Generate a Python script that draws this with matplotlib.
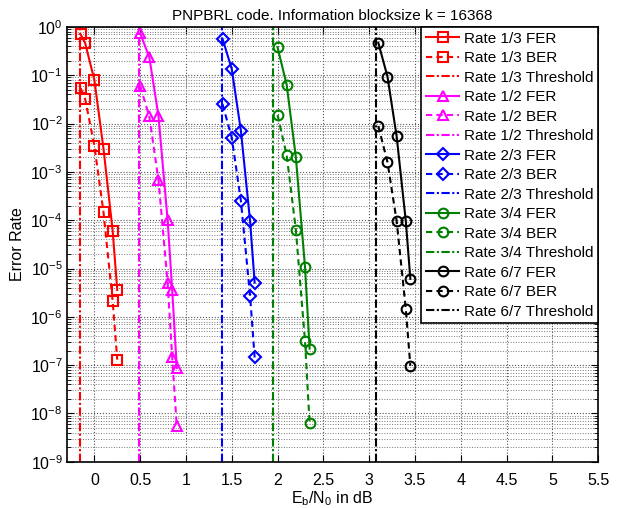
import numpy as np
import matplotlib
matplotlib.use("Agg")
import matplotlib.pyplot as plt
from matplotlib.ticker import LogLocator, NullFormatter

plt.rcParams['font.family'] = ['Liberation Sans', 'DejaVu Sans']
plt.rcParams['mathtext.fontset'] = 'custom'
plt.rcParams['mathtext.rm'] = 'Liberation Sans'

# data
rates = ['1/3', '1/2', '2/3', '3/4', '6/7']
colors = ['#ff0000', '#ff00ff', '#0000ff', '#008000', '#000000']
markers = ['s', '^', 'D', 'o', 'o']

ebn0_13 = [-0.15, -0.1, 0.0, 0.1, 0.2, 0.25]
fer_13 = [0.70, 0.46, 0.08, 0.0030, 6.0e-5, 3.6e-6]
ber_13 = [0.054, 0.032, 0.0035, 1.45e-4, 2.1e-6, 1.3e-7]

ebn0_12 = [0.5, 0.6, 0.7, 0.8, 0.85, 0.9]
fer_12 = [0.74, 0.236, 0.0144, 1.0e-4, 3.6e-6, 8.7e-8]
ber_12 = [0.06, 0.014, 6.8e-4, 5.0e-6, 1.44e-7, 5.4e-9]

ebn0_23 = [1.4, 1.5, 1.6, 1.7, 1.75]
fer_23 = [0.565, 0.135, 0.0071, 9.7e-5, 5.1e-6]
ber_23 = [0.025, 0.0051, 2.5e-4, 2.75e-6, 1.44e-7]

ebn0_34 = [2.0, 2.1, 2.2, 2.3, 2.35]
fer_34 = [0.38, 0.063, 0.0020, 1.07e-5, 2.2e-7]
ber_34 = [0.015, 0.0022, 6.3e-5, 3.1e-7, 6.3e-9]

ebn0_67 = [3.1, 3.2, 3.3, 3.4, 3.45]
fer_67 = [0.47, 0.094, 0.0055, 9.7e-5, 6.1e-6]
ber_67 = [0.0089, 0.0016, 9.7e-5, 1.47e-6, 9.7e-8]

thresholds = [-0.155, 0.49, 1.39, 1.95, 3.07]

ebn0 = [ebn0_13, ebn0_12, ebn0_23, ebn0_34, ebn0_67]
fer = [fer_13, fer_12, fer_23, fer_34, fer_67]
ber = [ber_13, ber_12, ber_23, ber_34, ber_67]

fig = plt.figure(figsize=(6.25, 5.08), dpi=100)
ax = fig.add_axes([0.107, 0.091, 0.850, 0.856])

for i in range(len(rates)):
    c = colors[i]
    ms = 7 if markers[i] != 'D' else 6
    ax.semilogy(ebn0[i], fer[i], '-', color=c, marker=markers[i], mfc='none',
                mec=c, mew=1.5, ms=ms, lw=1.5, label='Rate {} FER'.format(rates[i]))
    ax.semilogy(ebn0[i], ber[i], '--', color=c, marker=markers[i], mfc='none',
                mec=c, mew=1.5, ms=ms, lw=1.5, dashes=(3, 2),
                label='Rate {} BER'.format(rates[i]))
    ax.semilogy([thresholds[i], thresholds[i]], [1e-9, 1], '-.', color=c, lw=1.5,
                dashes=(4, 1.2, 1, 1.2), label='Rate {} Threshold'.format(rates[i]))

ax.set_xlim(-0.3, 5.5)
ax.set_ylim(1e-9, 1)
ax.set_xticks(np.arange(0, 5.51, 0.5))
ax.set_xticklabels(['0', '0.5', '1', '1.5', '2', '2.5', '3', '3.5', '4', '4.5', '5', '5.5'])
ax.yaxis.set_major_locator(LogLocator(base=10, numticks=12))
ax.yaxis.set_minor_locator(LogLocator(base=10, subs=np.arange(2, 10), numticks=12))
ax.yaxis.set_minor_formatter(NullFormatter())

ax.grid(True, which='major', ls=':', color='#555555', lw=0.8)
ax.grid(True, which='minor', axis='y', ls=':', color='#777777', lw=0.7)
ax.tick_params(which='both', direction='in', top=True, right=True, labelsize=11.5)
ax.tick_params(which='major', length=5)
ax.tick_params(which='minor', length=3)
ax.tick_params(axis='x', which='major', pad=8)
ax.tick_params(axis='y', which='major', pad=3)
for s in ax.spines.values():
    s.set_linewidth(1.2)

ax.set_title('PNPBRL code. Information blocksize k = 16368', fontsize=11, pad=5)
ax.set_xlabel(r'E$_\mathrm{b}$/N$_\mathrm{0}$ in dB', fontsize=11.5, labelpad=1)
ax.set_ylabel('Error Rate', fontsize=11.5, labelpad=4)

leg = ax.legend(loc='upper right', bbox_to_anchor=(1, 1), borderaxespad=0,
                fontsize=11, fancybox=False, framealpha=1, edgecolor='black',
                handlelength=2.2, labelspacing=0.36, borderpad=0.3, handletextpad=0.3)
leg.get_frame().set_linewidth(1.2)

fig.savefig('out.png', dpi=100)
